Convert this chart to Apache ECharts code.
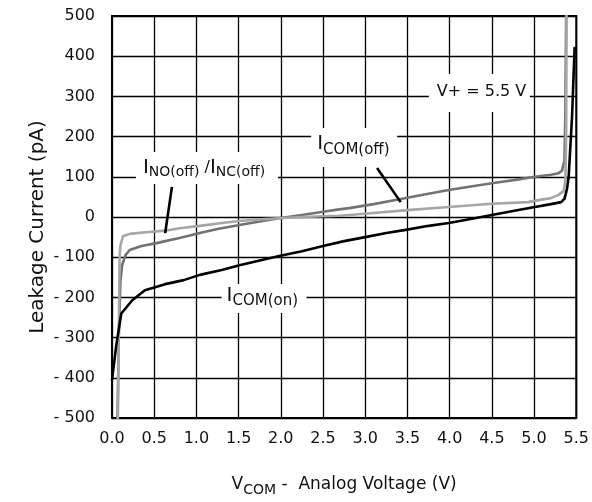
<!DOCTYPE html>
<html><head><meta charset="utf-8">
<script src="https://cdn.jsdelivr.net/npm/echarts@6/dist/echarts.min.js"></script>
<style>html,body{margin:0;padding:0;background:#fff}#c{width:592px;height:502px}</style>
</head><body><div id="c"></div>
<script>
// ---- data ----
const xMin = 0, xMax = 5.5, xStep = 0.5;
const yMin = -500, yMax = 500, yStep = 100;

const comOnX = [0, 0.05, 0.11, 0.24, 0.39, 0.63, 0.85, 1.04, 1.3, 1.51, 1.75, 1.98, 2.25, 2.5, 2.75, 3.0, 3.25, 3.48, 3.75, 3.99, 4.25, 4.5, 4.75, 5.01, 5.2, 5.32, 5.36, 5.39, 5.41, 5.45, 5.48];
const comOnY = [-405, -320, -240, -207, -182, -167, -157, -144, -132, -120, -108, -97, -85, -72, -60, -50, -40, -32, -22, -15, -5, 5, 15, 25, 32, 37, 45, 70, 100, 250, 420];

const comOffX = [0.065, 0.08, 0.1, 0.12, 0.16, 0.21, 0.35, 0.53, 0.63, 0.8, 1.04, 1.25, 1.51, 1.75, 1.98, 2.25, 2.5, 2.69, 2.81, 3.1, 3.42, 3.7, 3.99, 4.25, 4.54, 4.8, 5.01, 5.2, 5.29, 5.33, 5.36, 5.37, 5.38];
const comOffY = [-500, -300, -160, -120, -95, -82, -72, -65, -60, -52, -40, -30, -20, -11, -3, 5, 13, 19, 22, 32, 45, 56, 67, 76, 85, 93, 100, 105, 109, 115, 140, 250, 500];

const noOffX = [0.07, 0.08, 0.09, 0.1, 0.13, 0.21, 0.4, 0.63, 0.8, 1.04, 1.3, 1.51, 1.75, 1.98, 2.25, 2.5, 2.69, 2.81, 3.1, 3.5, 3.99, 4.5, 4.93, 5.05, 5.2, 5.29, 5.35, 5.37, 5.38, 5.385];
const noOffY = [-500, -300, -100, -70, -48, -42, -38, -34, -28, -22, -15, -10, -6, -3, 0, 2, 3, 5, 10, 17, 25, 33, 37, 42, 47, 55, 65, 90, 200, 500];

const FONT = '"DejaVu Sans", sans-serif';
const zip = (xs, ys) => xs.map((x, i) => [x, ys[i]]);

const chart = echarts.init(document.getElementById('c'), null, {renderer: 'canvas'});
const lineSeries = (name, xs, ys, color, z) => ({
  name, type: 'line', data: zip(xs, ys), showSymbol: false, symbol: 'none',
  z, lineStyle: {color, width: 2.6, join: 'round', cap: 'round'}, animation: false
});

chart.setOption({
  animation: false,
  backgroundColor: '#fff',
  grid: {left: 112, right: 14, top: 16, bottom: 84, show: true, borderColor: '#000', borderWidth: 2},
  xAxis: {
    type: 'value', min: xMin, max: xMax, interval: xStep,
    axisLine: {show: false}, axisTick: {show: false},
    splitLine: {show: true, lineStyle: {color: '#000', width: 1.3}},
    axisLabel: {formatter: v => v.toFixed(1), fontFamily: FONT, fontSize: 16, color: '#111', margin: 13}
  },
  yAxis: {
    type: 'value', min: yMin, max: yMax, interval: yStep,
    axisLine: {show: false}, axisTick: {show: false},
    splitLine: {show: true, lineStyle: {color: '#000', width: 1.3}},
    axisLabel: {formatter: v => v < 0 ? '- ' + Math.abs(v) : String(v), fontFamily: FONT, fontSize: 16, color: '#111', margin: 17}
  },
  series: [
    lineSeries('ICOM(off)', comOffX, comOffY, '#727272', 3),
    lineSeries('INO(off)/INC(off)', noOffX, noOffY, '#a6a6a6', 4),
    lineSeries('ICOM(on)', comOnX, comOnY, '#000', 5)
  ]
});

// ---- annotations (anchored in data coordinates) ----
const ctx = document.createElement('canvas').getContext('2d');
function tw(t, s) { ctx.font = s + 'px ' + FONT; return ctx.measureText(t).width; }
function textRun(parts, x0, y0) {
  let x = x0; const out = [];
  for (const p of parts) {
    out.push({type: 'text', x: x, y: y0 + (p.dy || 0), z: 101,
      style: {text: p.t, font: p.s + 'px ' + FONT, fill: '#111', align: 'left', verticalAlign: 'middle'}});
    x += tw(p.t, p.s);
  }
  return out;
}
const annotations = [
  {at: [3.848, 311], box: [-8, -18, 101, 38], parts: [{t: 'V+ = 5.5 V', s: 16}]},
  {at: [2.431, 181.6], box: [-6, -16, 86, 39], parts: [{t: 'I', s: 20}, {t: 'COM(off)', s: 15, dy: 6}]},
  {at: [0.366, 123], box: [-7, -15.5, 142, 32], parts: [{t: 'I', s: 20}, {t: 'NO(off)', s: 14, dy: 5}, {t: ' /', s: 16}, {t: 'I', s: 20}, {t: 'NC(off)', s: 14, dy: 5}]},
  {at: [1.357, -195], box: [-5, -11.5, 85, 29], parts: [{t: 'I', s: 20}, {t: 'COM(on)', s: 15, dy: 6}]}
];
const leaders = [
  [[3.14, 122], [3.42, 37]],
  [[0.71, 75], [0.63, -40]]
];
const px = p => chart.convertToPixel({gridIndex: 0}, p);
const g = [];
for (const a of annotations) {
  const [x0, y0] = px(a.at);
  g.push({type: 'rect', z: 100, shape: {x: x0 + a.box[0], y: y0 + a.box[1], width: a.box[2], height: a.box[3]}, style: {fill: '#fff'}});
  g.push(...textRun(a.parts, x0, y0));
}
for (const l of leaders) {
  const [x1, y1] = px(l[0]); const [x2, y2] = px(l[1]);
  g.push({type: 'line', z: 100, shape: {x1, y1, x2, y2}, style: {stroke: '#000', lineWidth: 2.6}});
}
// axis titles
const [cx] = px([(xMin + xMax) / 2, 0]);
const [, cy] = px([0, 0]);
const xt = [{t: 'V', s: 17}, {t: 'COM', s: 14, dy: 5}, {t: ' -  Analog Voltage (V)', s: 17}];
const xtw = xt.reduce((s, p) => s + tw(p.t, p.s), 0);
g.push(...textRun(xt, cx - xtw / 2, 485));
g.push({type: 'text', x: 38, y: cy + 10, rotation: Math.PI / 2, z: 101,
  style: {text: 'Leakage Current (pA)', font: '20px ' + FONT, fill: '#111', align: 'center', verticalAlign: 'middle'}});
chart.setOption({graphic: g});
</script>
</body></html>
